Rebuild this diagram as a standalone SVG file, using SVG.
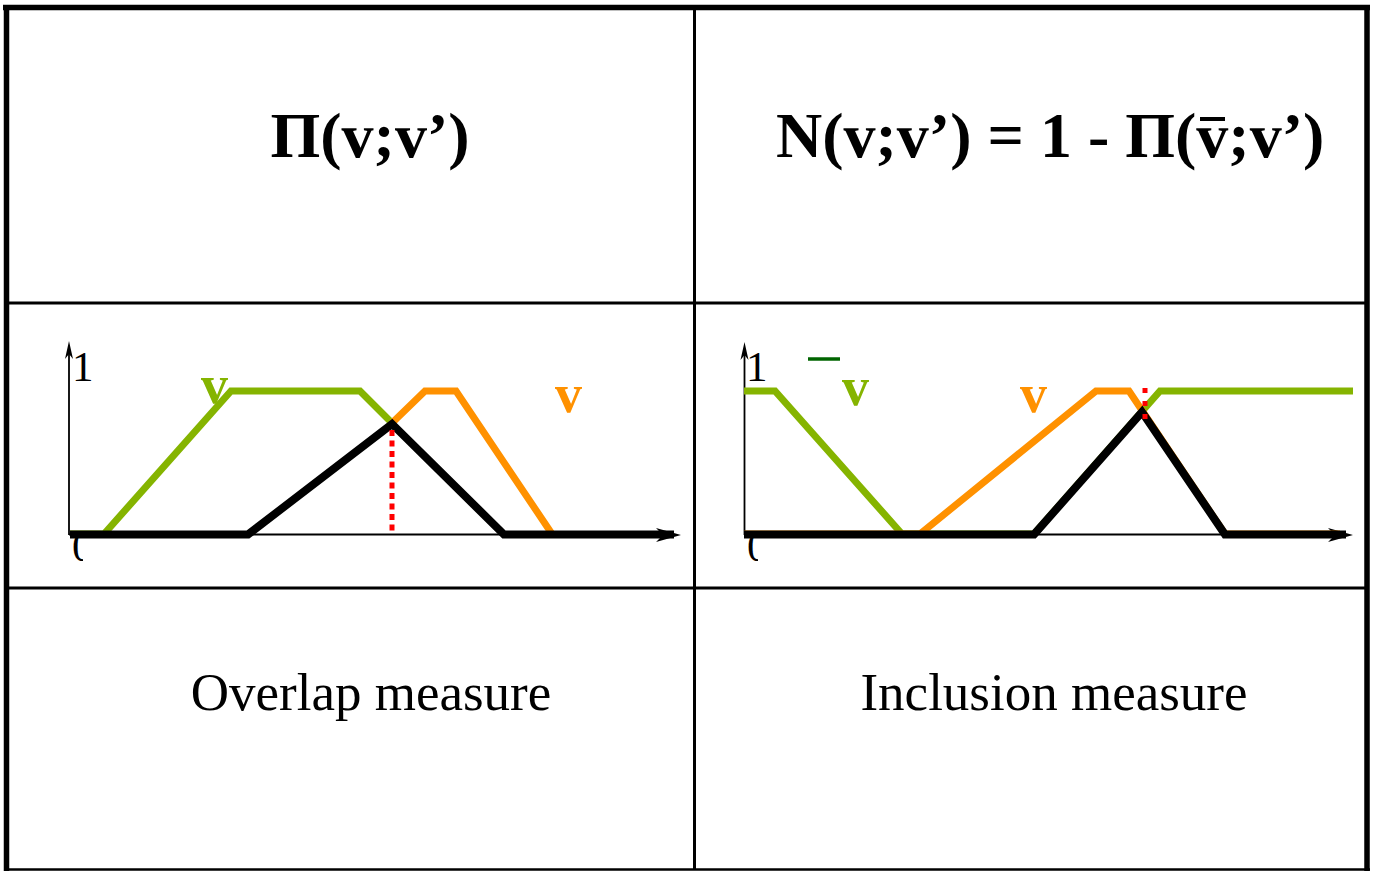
<svg xmlns="http://www.w3.org/2000/svg" width="1376" height="871" viewBox="0 0 1376 871">
<style>
  .title { font-family: "Liberation Serif", "Times New Roman", serif; font-weight: bold; font-size: 64px; fill: #000; }
  .caption { font-family: "Liberation Serif", "Times New Roman", serif; font-size: 53px; fill: #000; }
  .tick { font-family: "Liberation Serif", "Times New Roman", serif; font-size: 43px; fill: #000; }
  .lbl { font-family: "Liberation Serif", "Times New Roman", serif; font-weight: bold; font-size: 54px; }
  .axis { stroke: #000; stroke-width: 1.8; fill: none; }
  .green { stroke: #85B400; stroke-width: 7; fill: none; stroke-linejoin: miter; }
  .orange { stroke: #FF9100; stroke-width: 7; fill: none; stroke-linejoin: miter; }
  .black { stroke: #000; stroke-width: 8; fill: none; stroke-linejoin: miter; }
  .red { stroke: #FF0000; stroke-width: 5; fill: none; }
  .frame { stroke: #000; fill: none; }
</style>
<defs>
  <clipPath id="clipZeroL"><rect x="60" y="537" width="23" height="30"/></clipPath>
  <clipPath id="clipZeroR"><rect x="735" y="537" width="23" height="30"/></clipPath>
</defs>
<rect x="0" y="0" width="1376" height="871" fill="#fff"/>

<g id="table">
  <line class="frame" x1="3" y1="7.5" x2="1370" y2="7.5" stroke-width="5.5"/>
  <line class="frame" x1="6.5" y1="5" x2="6.5" y2="871" stroke-width="5.5"/>
  <line class="frame" x1="1367" y1="5" x2="1367" y2="871" stroke-width="5.5"/>
  <line class="frame" x1="4" y1="869.5" x2="1370" y2="869.5" stroke-width="2.5"/>
  <line class="frame" x1="694.5" y1="8" x2="694.5" y2="869" stroke-width="3"/>
  <line class="frame" x1="6" y1="303" x2="1367" y2="303" stroke-width="3"/>
  <line class="frame" x1="6" y1="588" x2="1367" y2="588" stroke-width="3"/>
</g>

<g id="title-left">
  <text class="title" x="370" y="157" text-anchor="middle">Π(v;v’)</text>
</g>
<g id="title-right">
  <text class="title" x="776" y="157">N(v;v’) = 1 - Π(v;v’)</text>
  <line x1="1200" y1="119" x2="1225" y2="119" stroke="#000" stroke-width="4"/>
</g>

<g id="chart-left">
  <line class="axis" x1="69" y1="350" x2="69" y2="535"/>
  <path d="M69,341 L73,359 L69,354 L65,359 Z" fill="#000"/>
  <line class="axis" x1="69" y1="534.5" x2="670" y2="534.5"/>
  <path d="M681,535 L656,528 L663,535 L656,542 Z" fill="#000"/>
  <text class="tick" x="72" y="381">1</text>
  <text class="tick" x="72" y="561" clip-path="url(#clipZeroL)">0</text>
  <polyline class="green" points="70,534 104,534 231,391 360,391 392,423"/>
  <polyline class="orange" points="392,423 425,391 456,391 552,534"/>
  <polyline class="black" points="70,534.5 248,534.5 392,424 504,534.5 674,534.5"/>
  <line class="red" x1="392" y1="430" x2="392" y2="534" stroke-dasharray="6 4.5"/>
  <text class="lbl" x="201" y="403" fill="#85B400">v</text>
  <text class="lbl" x="555" y="412" fill="#FF9100">v</text>
</g>

<g id="chart-right">
  <line class="axis" x1="744.5" y1="350" x2="744.5" y2="535"/>
  <path d="M744.5,342 L748.5,360 L744.5,355 L740.5,360 Z" fill="#000"/>
  <line class="axis" x1="744.5" y1="534.5" x2="1345" y2="534.5"/>
  <path d="M1353,535 L1328,528 L1335,535 L1328,542 Z" fill="#000"/>
  <text class="tick" x="746" y="381">1</text>
  <text class="tick" x="747" y="561" clip-path="url(#clipZeroR)">0</text>
  <polyline class="green" points="744,391 775,391 902,534 1034,534 1160,391 1353,391"/>
  <polyline class="orange" points="744,534 920,534 1096,391 1129,391 1225,534 1340,534"/>
  <polyline class="black" points="744,534.5 1034,534.5 1142,412 1225,534.5 1346,534.5"/>
  <line class="red" x1="1145" y1="388" x2="1145" y2="420" stroke-dasharray="5 8"/>
  <line x1="808" y1="359" x2="840" y2="359" stroke="#006400" stroke-width="3.5"/>
  <text class="lbl" x="842" y="405" fill="#85B400">v</text>
  <text class="lbl" x="1020" y="412" fill="#FF9100">v</text>
</g>

<g id="caption-left">
  <text class="caption" x="371" y="710" text-anchor="middle">Overlap measure</text>
</g>
<g id="caption-right">
  <text class="caption" x="1054" y="710" text-anchor="middle">Inclusion measure</text>
</g>
</svg>
